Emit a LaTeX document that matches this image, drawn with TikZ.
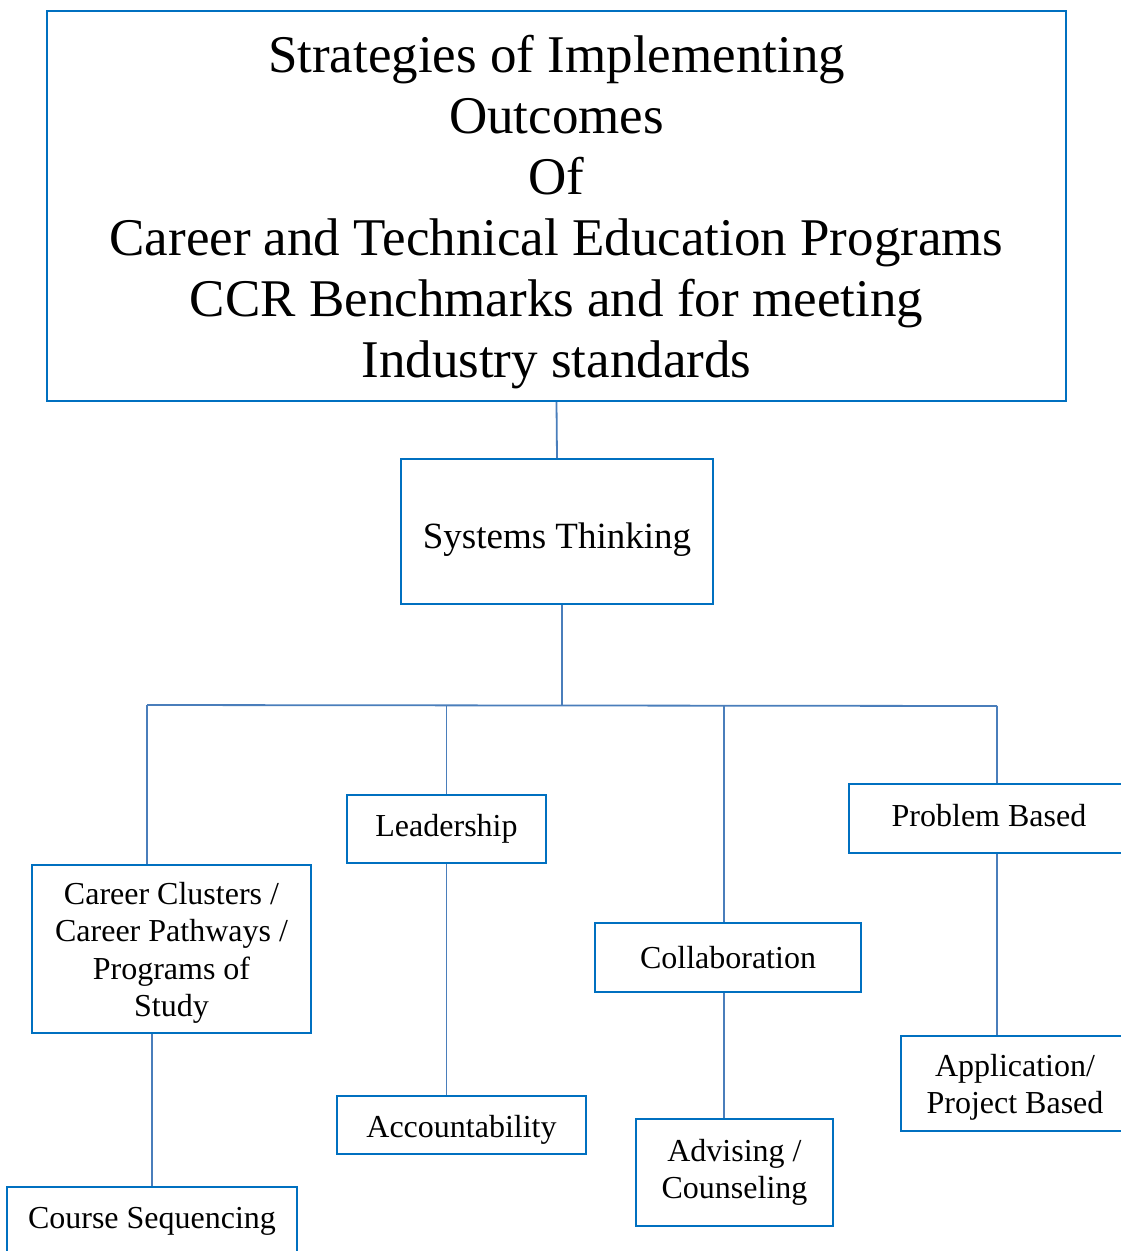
\documentclass[tikz,border=0pt]{standalone}
\usepackage{fontspec}
\setmainfont{Liberation Serif}
\definecolor{boxblue}{RGB}{0,112,192}
\definecolor{lineblue}{RGB}{74,126,187}
\newcommand{\lowstrut}[1]{\rule{0pt}{#1}}
\tikzset{
	stratbox/.style={draw=boxblue, line width=2pt, inner sep=0pt, align=center, font=\fontsize{32}{37.5}\selectfont},
	link/.style={draw=lineblue, line width=1.8pt}
}
\begin{document}
\begin{tikzpicture}[x=1pt, y=-1pt]
			\useasboundingbox (0,0) rectangle (1121,1251);
			\node[stratbox, minimum width=1019pt, minimum height=390pt, font=\fontsize{53}{61}\selectfont] (title) at (556.5,206) {\lowstrut{50pt}Strategies of Implementing\\Outcomes\\Of\\Career and Technical Education Programs\\CCR Benchmarks and for meeting\\Industry standards};
			\node[stratbox, minimum width=312pt, minimum height=145pt, text height=41pt, font=\fontsize{37}{43}\selectfont] (systems) at (557,531.5) {Systems Thinking};
			\node[stratbox, minimum width=279pt, minimum height=168pt] (clusters) at (171.5,949) {\lowstrut{30pt}Career Clusters /\\Career Pathways /\\Programs of\\Study};
			\node[stratbox, minimum width=290pt, minimum height=69pt] (sequencing) at (152,1221.5) {Course Sequencing};
			\node[stratbox, minimum width=199pt, minimum height=68pt] (leadership) at (446.5,829) {Leadership};
			\node[stratbox, minimum width=249pt, minimum height=58pt, text height=32pt] (account) at (461.5,1125) {Accountability};
			\node[stratbox, minimum width=266pt, minimum height=69pt] (collab) at (728,957.5) {Collaboration};
			\node[stratbox, minimum width=197pt, minimum height=107pt] (advising) at (734.5,1172.5) {Advising /\\Counseling};
			\node[stratbox, minimum width=280pt, minimum height=69pt, text depth=6pt] (problem) at (989,818.5) {Problem Based};
			\node[stratbox, minimum width=228pt, minimum height=95pt] (application) at (1015,1083.5) {\lowstrut{30pt}Application/\\Project Based};
			% bus line under Systems Thinking
			\coordinate (hub) at (562,706);
			\coordinate (busL) at (147,705);
			\coordinate (busR) at (997,706);
			\coordinate (colX) at (724,706);
			\draw[link] (title.south) -- (systems.north);
			\draw[link] (systems.south -| hub) -- (hub);
			\draw[link] (busL) -- (busR);
			\draw[link] (busL) -- (busL |- clusters.north);
			\draw[link] (leadership.north |- busL) -- (leadership.north);
			\draw[link] (colX) -- (colX |- collab.north);
			\draw[link] (busR) -- (busR |- problem.north);
			\draw[link] (clusters.south -| sequencing.north) -- (sequencing.north);
			\draw[link] (leadership.south) -- (leadership.south |- account.north);
			\draw[link] (colX |- collab.south) -- (colX |- advising.north);
			\draw[link] (busR |- problem.south) -- (busR |- application.north);
		\end{tikzpicture}
\end{document}
